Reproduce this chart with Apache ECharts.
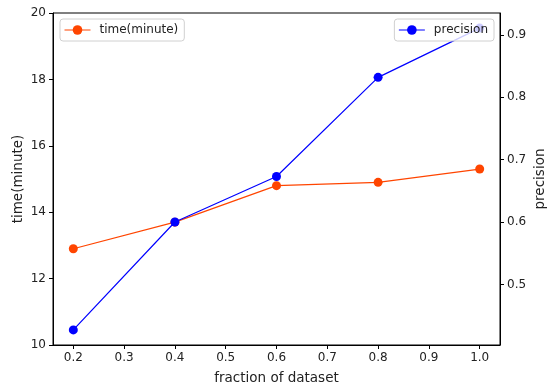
<!DOCTYPE html>
<html>
<head>
<meta charset="utf-8">
<script src="https://cdn.jsdelivr.net/npm/echarts@6/dist/echarts.min.js"></script>
<style>html,body{margin:0;padding:0;background:#fff}#c{width:547px;height:387px}</style>
</head>
<body>
<div id="c"></div>
<script>
const fractions = [0.2, 0.4, 0.6, 0.8, 1.0];
const timeMinutes = [12.9, 13.7, 14.8, 14.9, 15.3];
const precision = [0.427, 0.600, 0.673, 0.832, 0.911];
const xTicks = [0.2, 0.3, 0.4, 0.5, 0.6, 0.7, 0.8, 0.9, 1.0];
const leftTicks = [10, 12, 14, 16, 18, 20];
const rightTicks = [0.5, 0.6, 0.7, 0.8, 0.9];

const FONT = 'DejaVu Sans';
const chart = echarts.init(document.getElementById('c'), null, {renderer: 'canvas'});
const tickLabel = {color: '#222', fontFamily: FONT, fontSize: 12};
const legendCommon = {top: 19, padding: [5, 6, 5, 4], itemWidth: 26, itemHeight: 12, itemGap: 10,
  borderColor: '#d0d0d0', borderWidth: 1, borderRadius: 3, backgroundColor: 'rgba(255,255,255,0.8)',
  lineStyle: {width: 1}, textStyle: {fontFamily: FONT, fontSize: 12, color: '#222', padding: [0, 0, 0, 4]}};
chart.setOption({
  animation: false,
  textStyle: {fontFamily: FONT},
  grid: {left: 53, right: 47, top: 13, bottom: 42, show: true, borderColor: '#000', borderWidth: 1,
         backgroundColor: 'transparent', containLabel: false, outerBoundsMode: 'none'},
  legend: [
    Object.assign({data: ['time(minute)'], left: 60}, legendCommon),
    Object.assign({data: ['precision'], right: 53}, legendCommon)
  ],
  xAxis: {
    type: 'value', min: 0.16, max: 1.04,
    name: 'fraction of dataset', nameLocation: 'middle', nameGap: 26, nameMoveOverlap: false,
    nameTextStyle: {fontFamily: FONT, fontSize: 13.5, color: '#222'},
    axisLine: {show: true, lineStyle: {color: '#000', width: 1}},
    axisTick: {show: true, length: 4, lineStyle: {color: '#000'}, customValues: xTicks},
    axisLabel: Object.assign({margin: 7, customValues: xTicks, formatter: v => v.toFixed(1)}, tickLabel),
    splitLine: {show: false}
  },
  yAxis: [
    {type: 'value', min: 10, max: 20, interval: 2, position: 'left',
     name: 'time(minute)', nameLocation: 'middle', nameGap: 28, nameRotate: 90, nameMoveOverlap: false,
     nameTextStyle: {fontFamily: FONT, fontSize: 13.5, color: '#222'},
     axisLine: {show: true, lineStyle: {color: '#000', width: 1}},
     axisTick: {show: true, length: 4, lineStyle: {color: '#000'}},
     axisLabel: Object.assign({margin: 7}, tickLabel),
     splitLine: {show: false}},
    {type: 'value', min: 0.4028, max: 0.9352, position: 'right',
     name: 'precision', nameLocation: 'middle', nameGap: 33, nameRotate: 90, nameMoveOverlap: false,
     nameTextStyle: {fontFamily: FONT, fontSize: 13.5, color: '#222'},
     axisLine: {show: true, lineStyle: {color: '#000', width: 1}},
     axisTick: {show: true, length: 4, lineStyle: {color: '#000'}, customValues: rightTicks},
     axisLabel: Object.assign({margin: 7, customValues: rightTicks, formatter: v => v.toFixed(1)}, tickLabel),
     splitLine: {show: false}}
  ],
  series: [
    {name: 'time(minute)', type: 'line', yAxisIndex: 0,
     data: fractions.map((x, i) => [x, timeMinutes[i]]),
     symbol: 'circle', symbolSize: 9, color: '#ff4500',
     lineStyle: {width: 1.2, color: '#ff4500'}, itemStyle: {color: '#ff4500'}, z: 2},
    {name: 'precision', type: 'line', yAxisIndex: 1,
     data: fractions.map((x, i) => [x, precision[i]]),
     symbol: 'circle', symbolSize: 9, color: '#0000ff',
     lineStyle: {width: 1.2, color: '#0000ff'}, itemStyle: {color: '#0000ff'}, z: 3}
  ]
});
</script>
</body>
</html>
